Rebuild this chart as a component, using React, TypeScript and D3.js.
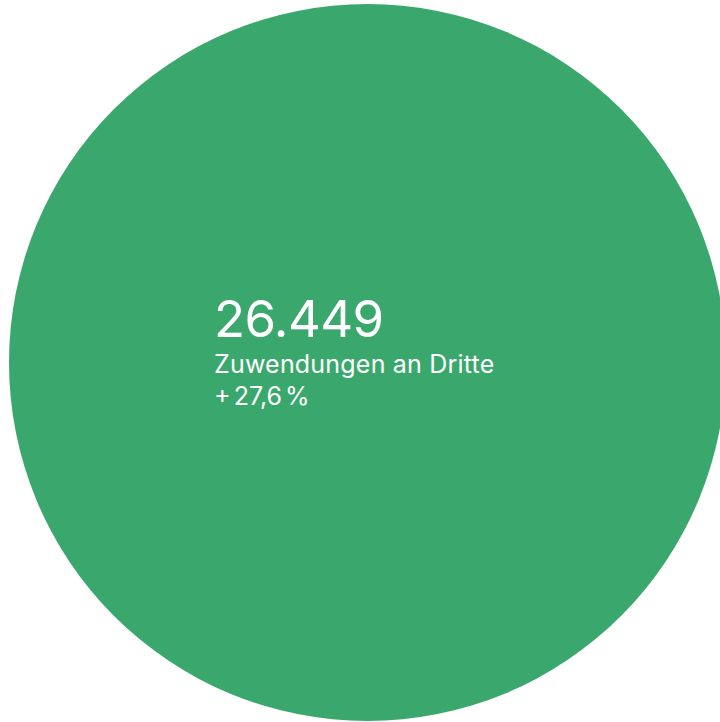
import React, { useEffect, useRef } from "react";
import * as d3 from "d3";

const categories = ["Zuwendungen an Dritte"];
const values = [26449];
const changes = [27.6];

export default function App() {
  const ref = useRef<SVGSVGElement | null>(null);

  useEffect(() => {
    if (!ref.current) return;
    const svg = d3.select(ref.current);
    svg.selectAll("*").remove();

    const width = 720;
    const height = 722;
    const radius = 358.5;
    const cx = 367.5;
    const cy = 362.5;

    const data = categories.map((c, i) => ({ label: c, value: values[i], change: changes[i] }));

    const pie = d3.pie<any>().value((d) => d.value).sort(null);
    const arc = d3.arc<any>().innerRadius(0).outerRadius(radius);

    const g = svg
      .attr("width", width)
      .attr("height", height)
      .append("g")
      .attr("transform", `translate(${cx},${cy})`);

    g.selectAll(".slice")
      .data(pie(data))
      .enter()
      .append("path")
      .attr("class", "slice")
      .attr("d", arc)
      .attr("fill", "#3aa86d");

    const de = d3.formatLocale({ decimal: ",", thousands: ".", grouping: [3], currency: ["", " €"] });
    const fmt = de.format(",d");
    const fmtPct = de.format(".1f");

    const label = svg
      .append("g")
      .attr("transform", "translate(214,0)")
      .style("font-family", "Inter, 'Noto Sans', sans-serif")
      .attr("fill", "#ffffff");

    data.forEach((d) => {
      label.append("text").attr("y", 337).style("font-size", "51px").style("letter-spacing", "-0.6px").text(fmt(d.value));
      label.append("text").attr("y", 373).style("font-size", "25px").style("letter-spacing", "0.2px").text(d.label);
      const t = label.append("text").attr("y", 405).style("font-size", "25px");
      t.append("tspan").text("+");
      t.append("tspan").attr("dx", 4).text(fmtPct(d.change));
      t.append("tspan").attr("dx", 3).text("%");
    });
  }, []);

  return (
    <div style={{ position: "absolute", left: 0, top: 0 }}>
      <svg ref={ref} style={{ display: "block" }} />
    </div>
  );
}
